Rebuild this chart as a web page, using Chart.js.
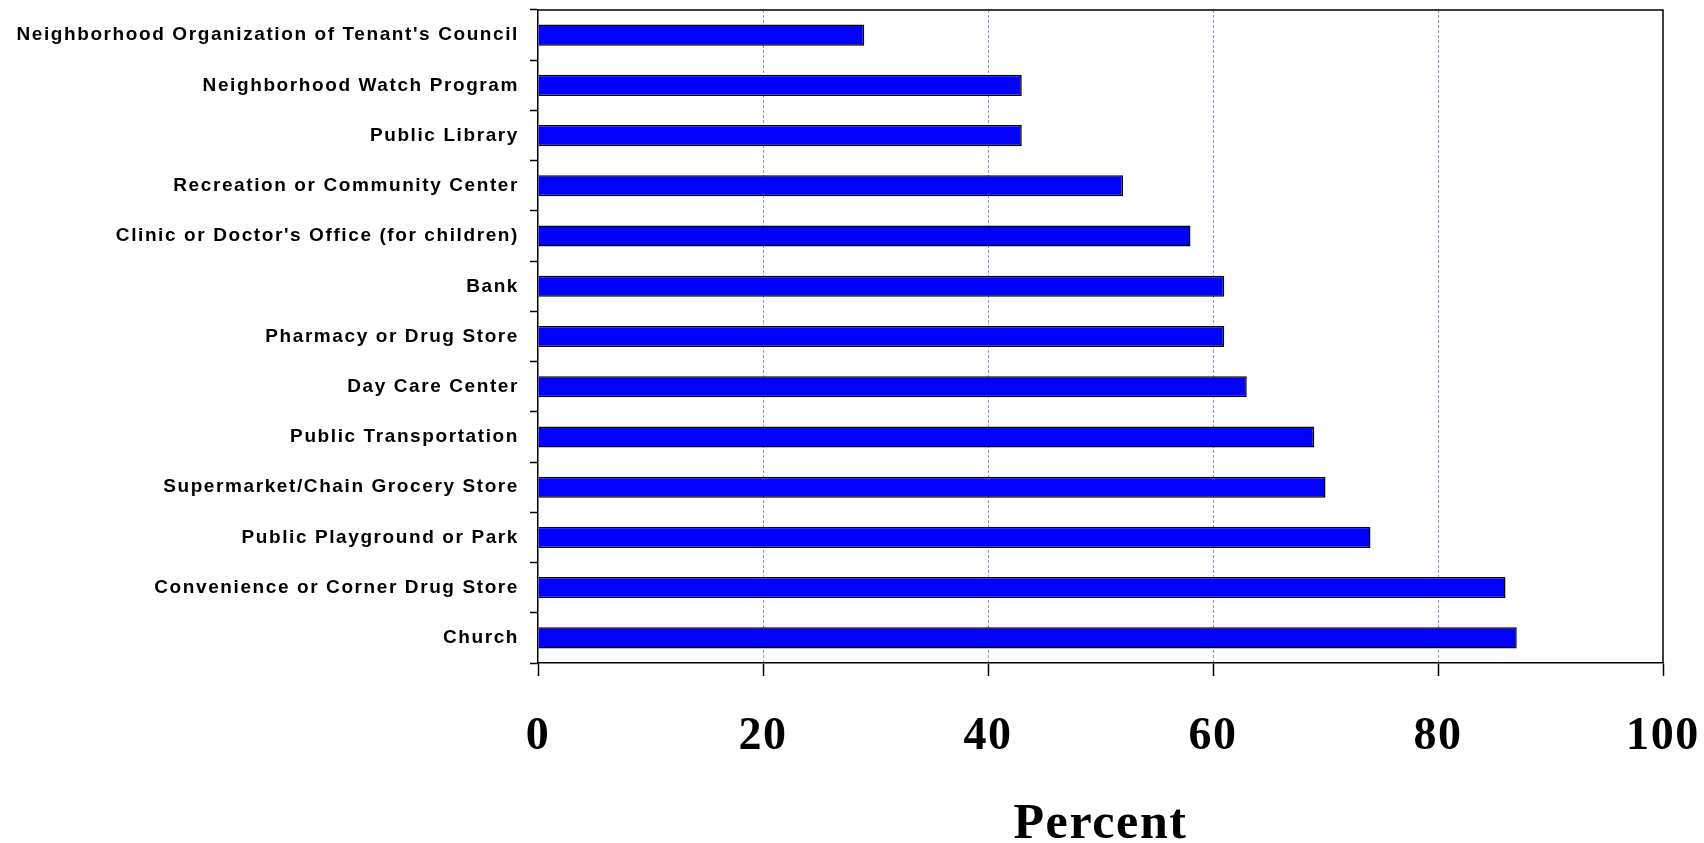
<!DOCTYPE html>
<html>
<head>
<meta charset="utf-8">
<script src="https://cdn.jsdelivr.net/npm/chart.js@4"></script>
<style>
  html, body { margin: 0; padding: 0; background: #fff; }
  #wrap { width: 1704px; height: 843px; }
</style>
</head>
<body>
<div id="wrap"><canvas id="myChart"></canvas></div>
<script>
// data
var categories = [
    "Neighborhood Organization of Tenant's Council",
    'Neighborhood Watch Program',
    'Public Library',
    'Recreation or Community Center',
    "Clinic or Doctor's Office (for children)",
    'Bank',
    'Pharmacy or Drug Store',
    'Day Care Center',
    'Public Transportation',
    'Supermarket/Chain Grocery Store',
    'Public Playground or Park',
    'Convenience or Corner Drug Store',
    'Church'
];
var percents = [29, 43, 43, 52, 58, 61, 61, 63, 69, 70, 74, 86, 87];
var xTicks = [0, 20, 40, 60, 80, 100];

// letter spaced text like the original, plus the top/right frame
var framePlugin = {
    id: 'frame',
    beforeDraw: function(chart) {
        chart.ctx.letterSpacing = '1.6px';
    },
    afterDraw: function(chart) {
        var a = chart.chartArea, ctx = chart.ctx;
        ctx.save();
        ctx.strokeStyle = '#000';
        ctx.lineWidth = 1.5;
        ctx.beginPath();
        ctx.moveTo(a.left, a.top);
        ctx.lineTo(a.right, a.top);
        ctx.lineTo(a.right, a.bottom);
        ctx.stroke();
        ctx.restore();
    }
};

var ctx = document.getElementById('myChart').getContext('2d');

var myBarChart = new Chart(ctx, {
    type: 'bar',
    data: {
        labels: categories,
        datasets: [{
            data: percents,
            backgroundColor: '#0000ff',
            borderColor: '#000',
            borderWidth: 1.5,
            barPercentage: 0.42,
            categoryPercentage: 1
        }]
    },
    options: {
        indexAxis: 'y',
        responsive: true,
        maintainAspectRatio: false,
        animation: false,
        layout: {
            padding: { top: 10, right: 41, bottom: 0, left: 0 }
        },
        plugins: {
            legend: { display: false },
            tooltip: { enabled: false }
        },
        scales: {
            x: {
                min: 0,
                max: 100,
                afterBuildTicks: function(scale) {
                    scale.ticks = xTicks.map(function(v) { return { value: v }; });
                },
                afterFit: function(scale) {
                    scale.height = 180;
                    scale.paddingLeft = 0;
                    scale.paddingRight = 0;
                },
                grid: {
                    color: function(c) {
                        var v = c.tick ? c.tick.value : 0;
                        return (v === 0 || v === 100) ? 'rgba(0,0,0,0)' : 'rgba(100,100,175,0.7)';
                    },
                    lineWidth: 1,
                    tickColor: '#000',
                    tickLength: 13,
                    tickWidth: 1.5
                },
                border: { color: '#000', width: 1.5, dash: [3, 2] },
                ticks: {
                    color: '#000',
                    padding: 34,
                    font: { family: 'Liberation Serif', weight: 'bold', size: 46 }
                },
                title: {
                    display: true,
                    text: 'Percent',
                    color: '#000',
                    padding: 0,
                    font: { family: 'Liberation Serif', weight: 'bold', size: 50, lineHeight: 0.7 }
                }
            },
            y: {
                afterFit: function(scale) {
                    scale.width = 538;
                    scale.paddingTop = 0;
                    scale.paddingBottom = 0;
                },
                grid: {
                    drawOnChartArea: false,
                    tickColor: '#000',
                    tickLength: 8,
                    tickWidth: 1.5
                },
                border: { color: '#000', width: 1.5 },
                ticks: {
                    color: '#000',
                    padding: 11,
                    autoSkip: false,
                    font: { family: "'Liberation Sans', Arial", weight: 'bold', size: 19 }
                }
            }
        }
    },
    plugins: [framePlugin]
});
</script>
</body>
</html>
